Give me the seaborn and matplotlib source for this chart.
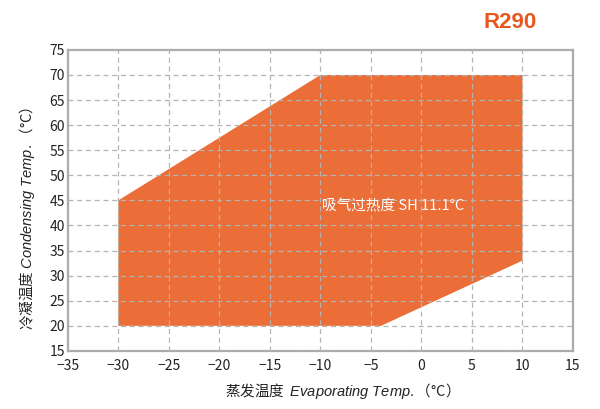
import seaborn as sns
import matplotlib.pyplot as plt

# Operating envelope of R290 compressor (evaporating vs condensing temp.)
evap_temp = [-30, -30, -10, 10, 10, -4]
cond_temp = [20, 45, 70, 70, 33, 20]

x_ticks = list(range(-35, 16, 5))
y_ticks = list(range(15, 76, 5))

fill_color = "#EB6D37"
title_color = "#E9571F"
grid_color = "#B4B4B4"

sns.set_theme(style="white")
plt.rcParams["font.family"] = ["Noto Sans CJK SC", "DejaVu Sans"]
# italic English parts of the axis labels via mathtext
plt.rcParams["mathtext.fontset"] = "custom"
plt.rcParams["mathtext.it"] = "Liberation Sans:italic"
plt.rcParams["mathtext.rm"] = "Liberation Sans"

fig = plt.figure(figsize=(6, 4.09), dpi=100)
ax = fig.add_axes([0.113, 0.142, 0.842, 0.736])

# Envelope
ax.fill(evap_temp, cond_temp, color=fill_color, lw=0, zorder=1)

ax.set_xlim(-35, 15)
ax.set_ylim(15, 75)
ax.set_xticks(x_ticks)
ax.set_yticks(y_ticks)
ax.tick_params(length=0, labelsize=10, colors="#222222")
ax.tick_params(axis="x", pad=6)
ax.tick_params(axis="y", pad=2)

# Dashed grid sits on top of the fill
ax.grid(True, ls=(0, (4, 3)), color=grid_color, lw=0.9, zorder=2)
ax.set_axisbelow(False)
for s in ax.spines.values():
    s.set_color("#ABABAB")
    s.set_linewidth(1.6)

ax.text(-2.8, 43.9, "吸气过热度 SH 11.1°C", color="white", fontsize=10.5,
        ha="center", va="center", zorder=3)

fig.text(0.85, 0.946, "R290", color=title_color, fontsize=16,
         fontweight="bold", family=["Liberation Sans", "DejaVu Sans"],
         ha="center", va="center")

ax.set_xlabel(r"蒸发温度  $\mathit{Evaporating\ Temp.}$（°C）",
              fontsize=10.5, color="#222222")
ax.set_ylabel(r"冷凝温度 $\mathit{Condensing\ Temp.}$（°C）",
              fontsize=10.5, color="#222222")
ax.xaxis.set_label_coords(0.535, -0.10)
ax.yaxis.set_label_coords(-0.06, 0.44)

fig.savefig("out.png", dpi=100)
